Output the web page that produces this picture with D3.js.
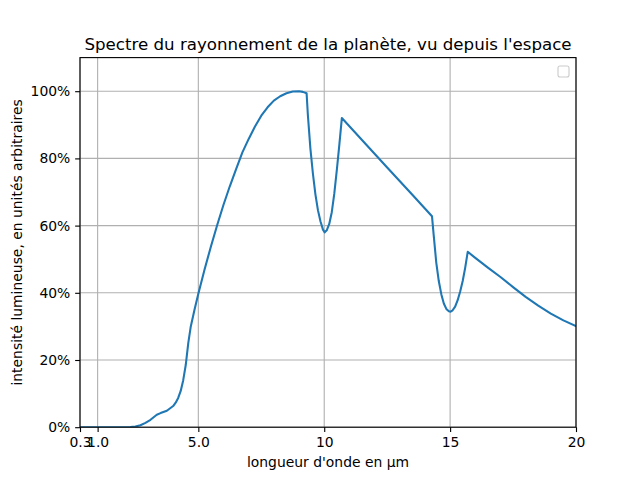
<!DOCTYPE html>
<html>
<head>
<meta charset="utf-8">
<script src="https://cdn.jsdelivr.net/npm/d3@7"></script>
<style>
  body { margin: 0; background: #fff; }
  svg { display: block; font-family: "DejaVu Sans", sans-serif; }
</style>
</head>
<body>
<svg id="chart" width="640" height="480"></svg>
<script>
const wavelength = [0.3, 1.0, 1.5, 2.0, 2.3, 2.5, 2.7, 2.9, 3.1, 3.25, 3.35, 3.5, 3.75, 4.0, 4.1, 4.2, 4.3, 4.4, 4.5, 4.6, 4.7, 4.85, 5.0, 5.25, 5.5, 5.75, 6.0, 6.25, 6.5, 6.75, 7.0, 7.25, 7.5, 7.75, 8.0, 8.25, 8.5, 8.75, 9.0, 9.15, 9.3, 9.35, 9.45, 9.55, 9.65, 9.75, 9.85, 9.95, 10.02, 10.1, 10.2, 10.3, 10.4, 10.5, 10.6, 10.7, 11.5, 12.5, 13.5, 14.28, 14.35, 14.45, 14.55, 14.65, 14.75, 14.85, 14.95, 15.02, 15.1, 15.2, 15.3, 15.4, 15.5, 15.6, 15.7, 16.0, 16.5, 17.0, 17.5, 18.0, 18.5, 19.0, 19.5, 20.0];
const intensityPct = [0, 0, 0, 0, 0.05, 0.2, 0.6, 1.3, 2.2, 3.1, 3.7, 4.2, 4.9, 6.3, 7.3, 8.7, 10.8, 14, 18.5, 25, 30, 35, 39.7, 47, 53.8, 60.2, 66.2, 71.7, 76.8, 81.8, 85.8, 89.5, 92.7, 95.2, 97.2, 98.5, 99.4, 99.9, 100, 99.8, 99.4, 93, 83, 75.5, 69.3, 64.6, 61.3, 58.8, 58, 58.6, 60.5, 64, 69.5, 76.5, 84, 92, 85.5, 77.3, 69.2, 62.8, 57, 49, 43.5, 39.6, 36.8, 35.2, 34.5, 34.4, 34.8, 35.9, 37.8, 40.4, 43.5, 47.5, 52.2, 50.4, 47.5, 44.7, 41.7, 38.8, 36.2, 33.8, 31.8, 30.1];
const xTicks = [0.3, 1.0, 5.0, 10, 15, 20];
const xTickLabels = ["0.3", "1.0", "5.0", "10", "15", "20"];
const yTicks = [0, 0.2, 0.4, 0.6, 0.8, 1.0];
const yTickLabels = ["0%", "20%", "40%", "60%", "80%", "100%"];
const title = "Spectre du rayonnement de la planète, vu depuis l'espace";
const xLabel = "longueur d'onde en µm";
const yLabel = "intensité lumineuse, en unités arbitraires";

const svg = d3.select("#chart");
const L = 80, R = 576, T = 57.6, B = 427.2;
const x = d3.scaleLinear().domain([0.3, 20]).range([L, R]);
const y = d3.scaleLinear().domain([0, 1.1]).range([B, T]);
const data = wavelength.map((w, i) => ({ w, v: intensityPct[i] / 100 }));

// grid
const grid = svg.append("g");
grid.selectAll(".gx").data(xTicks).join("line")
  .attr("x1", d => x(d)).attr("x2", d => x(d)).attr("y1", T).attr("y2", B)
  .attr("stroke", "#b0b0b0").attr("stroke-width", 1.11);
grid.selectAll(".gy").data(yTicks).join("line")
  .attr("x1", L).attr("x2", R).attr("y1", d => y(d)).attr("y2", d => y(d))
  .attr("stroke", "#b0b0b0").attr("stroke-width", 1.11);

// line
svg.append("defs").append("clipPath").attr("id", "clip")
  .append("rect").attr("x", L).attr("y", T).attr("width", R - L).attr("height", B - T);
svg.append("path").datum(data)
  .attr("clip-path", "url(#clip)")
  .attr("fill", "none").attr("stroke", "#1f77b4").attr("stroke-width", 2.08)
  .attr("stroke-linejoin", "round").attr("stroke-linecap", "square")
  .attr("d", d3.line().x(d => x(d.w)).y(d => y(d.v)));

// axes
const xAxis = d3.axisBottom(x).tickValues(xTicks).tickFormat((d, i) => xTickLabels[i])
  .tickSize(4.86).tickPadding(4.86).tickSizeOuter(0);
const yAxis = d3.axisLeft(y).tickValues(yTicks).tickFormat((d, i) => yTickLabels[i])
  .tickSize(4.86).tickPadding(4.86).tickSizeOuter(0);
const gx = svg.append("g").attr("transform", `translate(0,${B})`).call(xAxis);
const gy = svg.append("g").attr("transform", `translate(${L},0)`).call(yAxis);
[gx, gy].forEach(g => {
  g.select(".domain").remove();
  g.selectAll(".tick line").attr("stroke", "#000").attr("stroke-width", 1.11);
  g.selectAll(".tick text").attr("fill", "#000")
    .style("font-family", "DejaVu Sans").style("font-size", "13.9px");
});

// spines
svg.append("rect").attr("x", L).attr("y", T).attr("width", R - L).attr("height", B - T)
  .attr("fill", "none").attr("stroke", "#000").attr("stroke-width", 1.11);

// empty legend
svg.append("rect").attr("x", 558).attr("y", 66).attr("width", 11).attr("height", 11)
  .attr("rx", 2).attr("fill", "#fff").attr("fill-opacity", 0.8)
  .attr("stroke", "#cccccc").attr("stroke-width", 1.11);

// texts
svg.append("text").attr("x", (L + R) / 2).attr("y", 49.5).attr("text-anchor", "middle")
  .style("font-size", "16.67px").attr("fill", "#000").text(title);
svg.append("text").attr("x", (L + R) / 2).attr("y", 467).attr("text-anchor", "middle")
  .style("font-size", "13.9px").attr("fill", "#000").text(xLabel);
svg.append("text").attr("transform", `translate(21.5,${(T + B) / 2}) rotate(-90)`)
  .attr("text-anchor", "middle").style("font-size", "13.9px").attr("fill", "#000").text(yLabel);
</script>
</body>
</html>
